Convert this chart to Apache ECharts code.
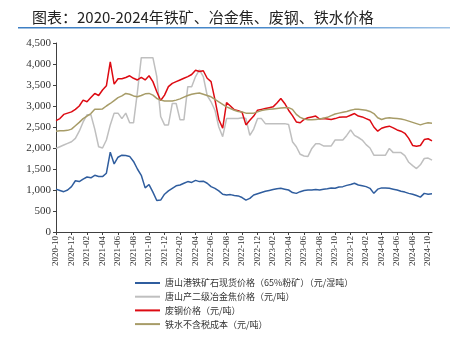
<!DOCTYPE html>
<html>
<head>
<meta charset="utf-8">
<script src="https://cdn.jsdelivr.net/npm/echarts@6/dist/echarts.min.js"></script>
<style>
html,body{margin:0;padding:0;background:#fff;}
#c{width:468px;height:337px;}
</style>
</head>
<body>
<div id="c"></div>
<script>
// Months covered (each split into two half-month points)
const months = ['2020-10','2020-11','2020-12','2021-01','2021-02','2021-03','2021-04','2021-05','2021-06','2021-07','2021-08','2021-09','2021-10','2021-11','2021-12',
'2022-01','2022-02','2022-03','2022-04','2022-05','2022-06','2022-07','2022-08','2022-09','2022-10','2022-11','2022-12',
'2023-01','2023-02','2023-03','2023-04','2023-05','2023-06','2023-07','2023-08','2023-09','2023-10','2023-11','2023-12',
'2024-01','2024-02','2024-03','2024-04','2024-05','2024-06','2024-07','2024-08','2024-09','2024-10'];
const categories = months.flatMap(m => [m + '-01', m + '-16']);

const seriesNames = ['唐山港铁矿石现货价格（65%粉矿）（元/湿吨）','唐山产二级冶金焦价格（元/吨）','废钢价格（元/吨）','铁水不含税成本（元/吨）'];

const ironOre = [1020,990,960,1000,1080,1220,1200,1260,1310,1290,1350,1320,1320,1400,1900,1620,1780,1830,1820,1800,1680,1500,1350,1050,1130,950,750,760,
900,980,1040,1100,1120,1160,1200,1180,1230,1200,1210,1160,1080,1040,980,900,880,890,870,860,820,760,
800,880,910,940,970,990,1010,1030,1040,1020,1000,940,920,960,990,1000,1000,1010,1000,1020,1030,1050,
1040,1070,1080,1110,1130,1160,1120,1100,1080,1040,920,1020,1050,1050,1040,1020,1000,970,950,920,900,870,830,920,900,910];

const coke = [1990,2030,2070,2110,2150,2230,2400,2620,2790,2790,2450,2030,2000,2190,2550,2830,2830,2700,2830,2600,2600,3330,4150,4150,4150,4150,3700,2750,
2550,2550,3060,3060,2670,2670,3460,3460,3700,3860,3700,3250,3100,2900,2500,2270,2700,2700,2700,2700,2720,2700,
2300,2450,2700,2700,2580,2580,2580,2580,2580,2580,2560,2150,2030,1850,1810,1800,1990,2100,2100,2050,2050,2050,
2190,2190,2190,2300,2430,2300,2250,2190,2080,2000,1830,1830,1830,1830,1990,1890,1890,1890,1820,1660,1580,1510,1600,1750,1760,1710];

const scrap = [2650,2700,2800,2830,2860,2920,3000,3140,3100,3200,3300,3250,3380,3480,4050,3520,3650,3650,3680,3720,3660,3620,3680,3620,3720,3580,3340,3130,
3260,3460,3540,3580,3620,3660,3700,3750,3850,3820,3840,3660,3580,3150,2680,2470,3080,3000,2910,2890,2850,2550,
2660,2760,2900,2920,2940,2960,2980,3070,3180,3060,2900,2770,2620,2600,2680,2720,2740,2760,2690,2700,2690,2680,
2700,2730,2740,2740,2780,2820,2760,2740,2700,2660,2500,2400,2470,2500,2520,2480,2430,2400,2350,2230,2060,2040,2060,2200,2220,2170];

const hotMetal = [2400,2410,2410,2420,2450,2530,2610,2700,2760,2820,2920,2920,2930,3000,3060,3130,3200,3240,3300,3280,3240,3220,3250,3290,3300,3260,3180,3140,
3120,3120,3120,3140,3170,3210,3250,3280,3300,3310,3280,3250,3220,3160,3100,3040,2980,2940,2900,2870,2860,2830,
2830,2830,2860,2890,2910,2920,2930,2940,2950,2960,2960,2920,2800,2730,2690,2670,2670,2680,2690,2710,2730,2770,
2810,2830,2850,2870,2900,2920,2920,2910,2900,2870,2820,2720,2680,2710,2720,2710,2700,2690,2670,2640,2610,2580,2550,2580,2600,2590];

const colors = ['#2F5D9E','#BFBFBF','#DD0A12','#A79C68'];
const titleText = '图表：2020-2024年铁矿、冶金焦、废钢、铁水价格';

const chart = echarts.init(document.getElementById('c'), null, {renderer:'canvas'});
const serif = '"Liberation Serif", "Times New Roman", serif';
const mk = (name, data, color) => ({
  name, type:'line', data, showSymbol:false, symbol:'none', animation:false,
  lineStyle:{color, width:1.5}, itemStyle:{color}
});
chart.setOption({
  animation:false,
  title:{text:titleText, left:27, top:5, textStyle:{fontFamily:'"Noto Sans CJK SC"', fontSize:15, fontWeight:'normal', color:'#222'}},
  graphic:[{type:'rect', shape:{x:18, y:27, width:432, height:1.6}, style:{fill:new echarts.graphic.LinearGradient(0,0,1,0,[{offset:0,color:'#3D7FC4'},{offset:0.6,color:'#4A8ACB'},{offset:1,color:'#9EC2E6'}])}}],
  grid:{left:56, right:36, top:43, bottom:105, containLabel:false},
  legend:{orient:'vertical', left:130, top:272, height:120, itemWidth:25, itemHeight:2, icon:'rect', itemGap:1.7,
    textStyle:{fontFamily:'"Noto Sans CJK SC"', fontSize:9, color:'#333', lineHeight:12},
    data:seriesNames},
  xAxis:{type:'category', data:categories, boundaryGap:false,
    axisLine:{lineStyle:{color:'#404040', width:1}},
    axisTick:{interval:3, length:3, lineStyle:{color:'#404040'}},
    axisLabel:{interval:3, rotate:90, margin:4, fontFamily:serif, fontSize:9, color:'#333', formatter:v => v.slice(0,7)},
    splitLine:{show:false}},
  yAxis:{type:'value', min:0, max:4500, interval:500,
    axisLine:{show:true, lineStyle:{color:'#404040', width:1}},
    axisTick:{show:true, length:3, lineStyle:{color:'#404040'}},
    axisLabel:{margin:5, fontFamily:serif, fontSize:11, color:'#333', formatter:v => v.toLocaleString('en-US')},
    splitLine:{show:false}},
  series:[mk(seriesNames[0], ironOre, colors[0]), mk(seriesNames[1], coke, colors[1]), mk(seriesNames[2], scrap, colors[2]), mk(seriesNames[3], hotMetal, colors[3])]
});
</script>
</body>
</html>
